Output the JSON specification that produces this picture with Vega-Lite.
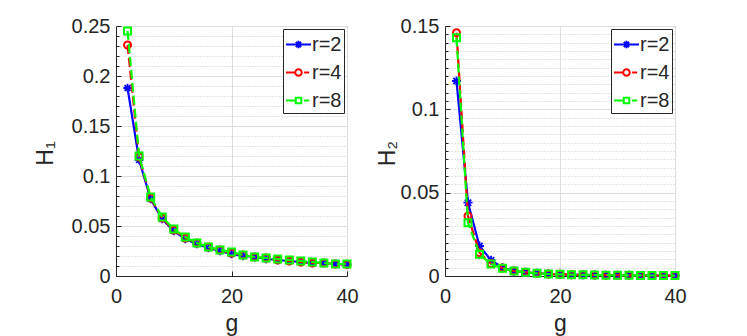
{
  "$schema": "https://vega.github.io/schema/vega-lite/v6.json",
  "background": "white",
  "padding": {"left": 34, "top": 15, "right": 5, "bottom": 0},
  "config": {
    "font": "Liberation Sans",
    "view": {"stroke": "#262626", "strokeWidth": 1},
    "axis": {
      "labelFont": "Liberation Sans", "titleFont": "Liberation Sans",
      "labelColor": "#262626", "titleColor": "#262626",
      "labelFontSize": 20, "titleFontSize": 23, "titleFontWeight": "normal",
      "domainColor": "#262626", "tickColor": "#262626",
      "gridColor": "#dedede", "gridOpacity": 1, "labelFlush": false
    },
    "legend": {
      "orient": "top-right", "offset": 3,
      "labelFont": "Liberation Sans", "labelFontSize": 20, "labelColor": "#262626",
      "labelOffset": 0, "fillColor": "white", "strokeColor": "#262626",
      "padding": 2, "rowPadding": 4, "symbolSize": 625, "symbolStrokeWidth": 2
    }
  },
  "datasets": {
    "h1": [
      {"g":2,"r":"2","v":0.188},{"g":2,"r":"4","v":0.231},{"g":2,"r":"8","v":0.245},
      {"g":4,"r":"2","v":0.116},{"g":4,"r":"4","v":0.119},{"g":4,"r":"8","v":0.120},
      {"g":6,"r":"2","v":0.077},{"g":6,"r":"4","v":0.078},{"g":6,"r":"8","v":0.079},
      {"g":8,"r":"2","v":0.057},{"g":8,"r":"4","v":0.058},{"g":8,"r":"8","v":0.059},
      {"g":10,"r":"2","v":0.045},{"g":10,"r":"4","v":0.046},{"g":10,"r":"8","v":0.047},
      {"g":12,"r":"2","v":0.037},{"g":12,"r":"4","v":0.038},{"g":12,"r":"8","v":0.039},
      {"g":14,"r":"2","v":0.032},{"g":14,"r":"4","v":0.033},{"g":14,"r":"8","v":0.033},
      {"g":16,"r":"2","v":0.028},{"g":16,"r":"4","v":0.029},{"g":16,"r":"8","v":0.029},
      {"g":18,"r":"2","v":0.025},{"g":18,"r":"4","v":0.026},{"g":18,"r":"8","v":0.026},
      {"g":20,"r":"2","v":0.022},{"g":20,"r":"4","v":0.023},{"g":20,"r":"8","v":0.024},
      {"g":22,"r":"2","v":0.020},{"g":22,"r":"4","v":0.021},{"g":22,"r":"8","v":0.021},
      {"g":24,"r":"2","v":0.019},{"g":24,"r":"4","v":0.019},{"g":24,"r":"8","v":0.019},
      {"g":26,"r":"2","v":0.017},{"g":26,"r":"4","v":0.018},{"g":26,"r":"8","v":0.018},
      {"g":28,"r":"2","v":0.016},{"g":28,"r":"4","v":0.016},{"g":28,"r":"8","v":0.017},
      {"g":30,"r":"2","v":0.015},{"g":30,"r":"4","v":0.015},{"g":30,"r":"8","v":0.016},
      {"g":32,"r":"2","v":0.014},{"g":32,"r":"4","v":0.014},{"g":32,"r":"8","v":0.015},
      {"g":34,"r":"2","v":0.013},{"g":34,"r":"4","v":0.013},{"g":34,"r":"8","v":0.014},
      {"g":36,"r":"2","v":0.013},{"g":36,"r":"4","v":0.013},{"g":36,"r":"8","v":0.013},
      {"g":38,"r":"2","v":0.012},{"g":38,"r":"4","v":0.012},{"g":38,"r":"8","v":0.012},
      {"g":40,"r":"2","v":0.0115},{"g":40,"r":"4","v":0.0115},{"g":40,"r":"8","v":0.012}
    ],
    "h2": [
      {"g":2,"r":"2","v":0.117},{"g":2,"r":"4","v":0.146},{"g":2,"r":"8","v":0.143},
      {"g":4,"r":"2","v":0.044},{"g":4,"r":"4","v":0.036},{"g":4,"r":"8","v":0.032},
      {"g":6,"r":"2","v":0.018},{"g":6,"r":"4","v":0.014},{"g":6,"r":"8","v":0.013},
      {"g":8,"r":"2","v":0.0095},{"g":8,"r":"4","v":0.0075},{"g":8,"r":"8","v":0.0072},
      {"g":10,"r":"2","v":0.005},{"g":10,"r":"4","v":0.0048},{"g":10,"r":"8","v":0.0046},
      {"g":12,"r":"2","v":0.003},{"g":12,"r":"4","v":0.003},{"g":12,"r":"8","v":0.003},
      {"g":14,"r":"2","v":0.0022},{"g":14,"r":"4","v":0.0022},{"g":14,"r":"8","v":0.0022},
      {"g":16,"r":"2","v":0.0016},{"g":16,"r":"4","v":0.0016},{"g":16,"r":"8","v":0.0016},
      {"g":18,"r":"2","v":0.0012},{"g":18,"r":"4","v":0.0012},{"g":18,"r":"8","v":0.0012},
      {"g":20,"r":"2","v":0.001},{"g":20,"r":"4","v":0.001},{"g":20,"r":"8","v":0.001},
      {"g":22,"r":"2","v":0.0008},{"g":22,"r":"4","v":0.0008},{"g":22,"r":"8","v":0.0008},
      {"g":24,"r":"2","v":0.0007},{"g":24,"r":"4","v":0.0007},{"g":24,"r":"8","v":0.0007},
      {"g":26,"r":"2","v":0.0006},{"g":26,"r":"4","v":0.0006},{"g":26,"r":"8","v":0.0006},
      {"g":28,"r":"2","v":0.0005},{"g":28,"r":"4","v":0.0005},{"g":28,"r":"8","v":0.0005},
      {"g":30,"r":"2","v":0.00045},{"g":30,"r":"4","v":0.00045},{"g":30,"r":"8","v":0.00045},
      {"g":32,"r":"2","v":0.0004},{"g":32,"r":"4","v":0.0004},{"g":32,"r":"8","v":0.0004},
      {"g":34,"r":"2","v":0.00035},{"g":34,"r":"4","v":0.00035},{"g":34,"r":"8","v":0.00035},
      {"g":36,"r":"2","v":0.0003},{"g":36,"r":"4","v":0.0003},{"g":36,"r":"8","v":0.0003},
      {"g":38,"r":"2","v":0.00027},{"g":38,"r":"4","v":0.00027},{"g":38,"r":"8","v":0.00027},
      {"g":40,"r":"2","v":0.00025},{"g":40,"r":"4","v":0.00025},{"g":40,"r":"8","v":0.00025}
    ]
  },
  "spacing": 98,
  "bounds": "flush",
  "resolve": {
    "scale": {"color": "independent", "shape": "independent"},
    "legend": {"color": "independent", "shape": "independent"}
  },
  "hconcat": [
    {
      "width": 231, "height": 250,
      "data": {"name": "h1"},
      "resolve": {"axis": {"y": "independent"}},
      "layer": [
        {
          "transform": [{"filter": "false"}],
          "mark": {"type": "point", "filled": false, "opacity": 1},
          "encoding": {
            "x": {"field": "g", "type": "quantitative", "scale": {"domain": [0, 40], "nice": false},
              "axis": {"values": [0, 20, 40], "grid": true, "tickSize": -5, "labelPadding": 15, "title": "g", "titleY": 54, "titleBaseline": "alphabetic"}},
            "y": {"field": "v", "type": "quantitative", "scale": {"domain": [0, 0.25], "nice": false}, "axis": null},
            "color": {"field": "r", "type": "nominal", "scale": {"domain": ["2", "4", "8"], "range": ["#0000ff", "#ff0000", "#00ff00"]},
              "legend": {"title": null, "labelExpr": "'r=' + datum.label"}},
            "shape": {"field": "r", "type": "nominal", "scale": {"domain": ["2", "4", "8"], "range": [
              "M-1,0H1M-0.3,0H0.3M0,-0.3V0.3M-0.21,-0.21L0.21,0.21M-0.21,0.21L0.21,-0.21",
              "M-1,0H-0.3M0.26,0A0.26,0.26 0 1,1 -0.26,0A0.26,0.26 0 1,1 0.26,0M0.45,0H0.85",
              "M-1,0H-0.3M-0.22,-0.22H0.22V0.22H-0.22ZM0.45,0H0.85"]},
              "legend": {"title": null, "labelExpr": "'r=' + datum.label"}}
          }
        },
        {
          "transform": [{"filter": "datum.r == '2'"}],
          "mark": {"type": "line", "strokeWidth": 2.2},
          "encoding": {
            "x": {"field": "g", "type": "quantitative"},
            "y": {"field": "v", "type": "quantitative",
              "axis": {"orient": "left", "values": [0.01,0.02,0.03,0.04,0.06,0.07,0.08,0.09,0.11,0.12,0.13,0.14,0.16,0.17,0.18,0.19,0.21,0.22,0.23,0.24],
                "grid": true, "gridDash": [1, 2], "gridColor": "#c8c8c8", "labels": false, "tickSize": -3, "domain": false, "title": null}},
            "color": {"field": "r", "type": "nominal"}
          }
        },
        {
          "transform": [{"filter": "datum.r == '2'"}],
          "mark": {"type": "point", "filled": false, "strokeWidth": 1.8, "size": 72, "opacity": 1, "shape": "M-1,0H1M0,-1V1M-0.7,-0.7L0.7,0.7M-0.7,0.7L0.7,-0.7"},
          "encoding": {
            "x": {"field": "g", "type": "quantitative"},
            "y": {"field": "v", "type": "quantitative",
              "axis": {"orient": "left", "values": [0, 0.05, 0.1, 0.15, 0.2, 0.25], "format": ".2~f", "grid": true, "tickSize": -5, "labelPadding": 11,
                "title": "H₁", "titleX": -70.5, "titleY": 127, "titleBaseline": "middle", "titleAlign": "center", "titleAngle": -90}},
            "color": {"field": "r", "type": "nominal"}
          }
        },
        {
          "transform": [{"filter": "datum.r == '4'"}],
          "mark": {"type": "line", "strokeWidth": 2.2, "strokeDash": [9, 4]},
          "encoding": {
            "x": {"field": "g", "type": "quantitative"},
            "y": {"field": "v", "type": "quantitative", "axis": null},
            "color": {"field": "r", "type": "nominal"}
          }
        },
        {
          "transform": [{"filter": "datum.r == '4'"}],
          "mark": {"type": "point", "filled": false, "strokeWidth": 2, "size": 49, "opacity": 1, "shape": "circle"},
          "encoding": {
            "x": {"field": "g", "type": "quantitative"},
            "y": {"field": "v", "type": "quantitative", "axis": null},
            "color": {"field": "r", "type": "nominal"}
          }
        },
        {
          "transform": [{"filter": "datum.r == '8'"}],
          "mark": {"type": "line", "strokeWidth": 2.2, "strokeDash": [9, 4]},
          "encoding": {
            "x": {"field": "g", "type": "quantitative"},
            "y": {"field": "v", "type": "quantitative", "axis": null},
            "color": {"field": "r", "type": "nominal"}
          }
        },
        {
          "transform": [{"filter": "datum.r == '8'"}],
          "mark": {"type": "point", "filled": false, "strokeWidth": 2, "size": 49, "opacity": 1, "shape": "square"},
          "encoding": {
            "x": {"field": "g", "type": "quantitative"},
            "y": {"field": "v", "type": "quantitative", "axis": null},
            "color": {"field": "r", "type": "nominal"}
          }
        }
      ]
    },
    {
      "width": 230, "height": 250,
      "data": {"name": "h2"},
      "resolve": {"axis": {"y": "independent"}},
      "layer": [
        {
          "transform": [{"filter": "false"}],
          "mark": {"type": "point", "filled": false, "opacity": 1},
          "encoding": {
            "x": {"field": "g", "type": "quantitative", "scale": {"domain": [0, 40], "nice": false},
              "axis": {"values": [0, 20, 40], "grid": true, "tickSize": -5, "labelPadding": 15, "title": "g", "titleY": 54, "titleBaseline": "alphabetic"}},
            "y": {"field": "v", "type": "quantitative", "scale": {"domain": [0, 0.15], "nice": false}, "axis": null},
            "color": {"field": "r", "type": "nominal", "scale": {"domain": ["2", "4", "8"], "range": ["#0000ff", "#ff0000", "#00ff00"]},
              "legend": {"title": null, "labelExpr": "'r=' + datum.label"}},
            "shape": {"field": "r", "type": "nominal", "scale": {"domain": ["2", "4", "8"], "range": [
              "M-1,0H1M-0.3,0H0.3M0,-0.3V0.3M-0.21,-0.21L0.21,0.21M-0.21,0.21L0.21,-0.21",
              "M-1,0H-0.3M0.26,0A0.26,0.26 0 1,1 -0.26,0A0.26,0.26 0 1,1 0.26,0M0.45,0H0.85",
              "M-1,0H-0.3M-0.22,-0.22H0.22V0.22H-0.22ZM0.45,0H0.85"]},
              "legend": {"title": null, "labelExpr": "'r=' + datum.label"}}
          }
        },
        {
          "transform": [{"filter": "datum.r == '2'"}],
          "mark": {"type": "line", "strokeWidth": 2.2},
          "encoding": {
            "x": {"field": "g", "type": "quantitative"},
            "y": {"field": "v", "type": "quantitative",
              "axis": {"orient": "left", "values": [0.005,0.01,0.015,0.02,0.025,0.03,0.035,0.04,0.045,0.055,0.06,0.065,0.07,0.075,0.08,0.085,0.09,0.095,0.105,0.11,0.115,0.12,0.125,0.13,0.135,0.14,0.145],
                "grid": true, "gridDash": [1, 2], "gridColor": "#c8c8c8", "labels": false, "tickSize": -3, "domain": false, "title": null}},
            "color": {"field": "r", "type": "nominal"}
          }
        },
        {
          "transform": [{"filter": "datum.r == '2'"}],
          "mark": {"type": "point", "filled": false, "strokeWidth": 1.8, "size": 81, "opacity": 1, "shape": "M-1,0H1M0,-1V1M-0.7,-0.7L0.7,0.7M-0.7,0.7L0.7,-0.7"},
          "encoding": {
            "x": {"field": "g", "type": "quantitative"},
            "y": {"field": "v", "type": "quantitative",
              "axis": {"orient": "left", "values": [0, 0.05, 0.1, 0.15], "format": ".2~f", "grid": true, "tickSize": -5, "labelPadding": 11,
                "title": "H₂", "titleX": -57.5, "titleY": 127, "titleBaseline": "middle", "titleAlign": "center", "titleAngle": -90}},
            "color": {"field": "r", "type": "nominal"}
          }
        },
        {
          "transform": [{"filter": "datum.r == '4'"}],
          "mark": {"type": "line", "strokeWidth": 2.2, "strokeDash": [9, 4]},
          "encoding": {
            "x": {"field": "g", "type": "quantitative"},
            "y": {"field": "v", "type": "quantitative", "axis": null},
            "color": {"field": "r", "type": "nominal"}
          }
        },
        {
          "transform": [{"filter": "datum.r == '4'"}],
          "mark": {"type": "point", "filled": false, "strokeWidth": 2, "size": 49, "opacity": 1, "shape": "circle"},
          "encoding": {
            "x": {"field": "g", "type": "quantitative"},
            "y": {"field": "v", "type": "quantitative", "axis": null},
            "color": {"field": "r", "type": "nominal"}
          }
        },
        {
          "transform": [{"filter": "datum.r == '8'"}],
          "mark": {"type": "line", "strokeWidth": 2.2, "strokeDash": [9, 4]},
          "encoding": {
            "x": {"field": "g", "type": "quantitative"},
            "y": {"field": "v", "type": "quantitative", "axis": null},
            "color": {"field": "r", "type": "nominal"}
          }
        },
        {
          "transform": [{"filter": "datum.r == '8'"}],
          "mark": {"type": "point", "filled": false, "strokeWidth": 2, "size": 49, "opacity": 1, "shape": "square"},
          "encoding": {
            "x": {"field": "g", "type": "quantitative"},
            "y": {"field": "v", "type": "quantitative", "axis": null},
            "color": {"field": "r", "type": "nominal"}
          }
        }
      ]
    }
  ]
}
